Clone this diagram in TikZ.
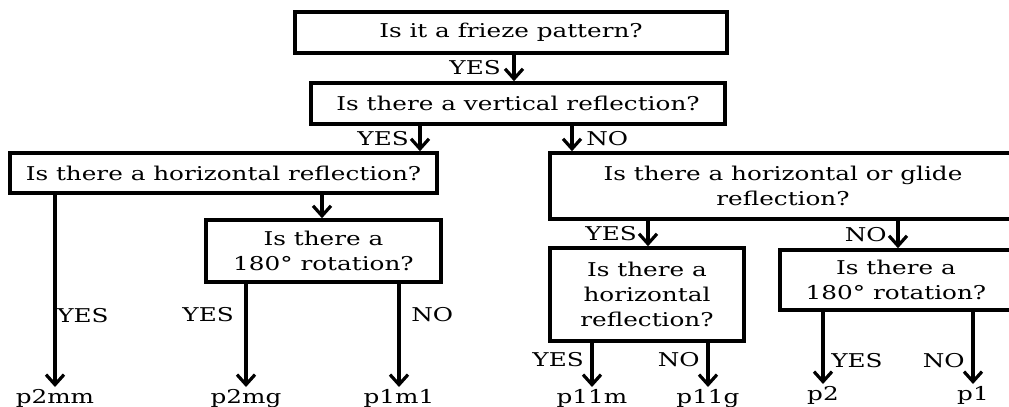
\documentclass[tikz,border=0pt]{standalone}
\usepackage{fontspec}
\setmainfont{DejaVu Serif}[FakeStretch=1.3]
\usetikzlibrary{arrows.meta}

\tikzset{
  qbox/.style={draw=black, line width=1.8pt, align=center, inner sep=0pt},
  arr/.style={line width=1.6pt, -{Straight Barb[length=5pt,width=9pt]}},
  leaf/.style={inner sep=1pt},
}

\begin{document}
\begin{tikzpicture}[x=0.5pt, y=-0.5pt, font=\fontsize{9.5}{12.3}\selectfont]
\useasboundingbox (0,0) rectangle (1009,407);
\clip (0,0) rectangle (1009,407);
% questions
\node[qbox, minimum width=216pt, minimum height=20.5pt] (q1) at (511,32.5) {Is it a frieze pattern?};
\node[qbox, minimum width=207pt, minimum height=20.5pt] (q2) at (518,103.5) {Is there a vertical reflection?};
\node[qbox, minimum width=213.5pt, minimum height=20pt] (q3) at (223.5,173) {Is there a horizontal reflection?};
\node[qbox, minimum width=233pt, minimum height=33pt] (q4) at (783,186) {Is there a horizontal or glide\\reflection?};
\node[qbox, minimum width=117.5pt, minimum height=31pt] (q5) at (323.5,251) {Is there a\\180\textdegree{} rotation?};
\node[qbox, minimum width=97pt, minimum height=46.5pt] (q6) at (647,294.5) {Is there a\\horizontal\\reflection?};
\node[qbox, minimum width=116pt, minimum height=30pt] (q7) at (896,280) {Is there a\\180\textdegree{} rotation?};
% answers
\node[leaf, anchor=north] (p2mm) at (55,387) {p2mm};
\node[leaf, anchor=north] (p2mg) at (246,387) {p2mg};
\node[leaf, anchor=north] (p1m1) at (399,387) {p1m1};
\node[leaf, anchor=north] (p11m) at (592,387) {p11m};
\node[leaf, anchor=north] (p11g) at (708,387) {p11g};
\node[leaf, anchor=north] (p2) at (823,384) {p2};
\node[leaf, anchor=north] (p1) at (973,384) {p1};
% where the arrows between boxes sit
\coordinate (x12) at (514,0);
\coordinate (x23) at (420,0);
\coordinate (x24) at (572,0);
\coordinate (x35) at (322,0);
\coordinate (x46) at (648,0);
\coordinate (x47) at (898,0);
% arrows
\draw[arr] (q1.south -| x12) -- node[left, xshift=-2.5pt]{YES} (q2.north -| x12);
\draw[arr] (q2.south -| x23) -- node[left, xshift=-1.5pt]{YES} (q3.north -| x23);
\draw[arr] (q2.south -| x24) -- node[right, xshift=3pt]{NO} (q4.north -| x24);
\draw[arr] (q3.south -| x35) -- (q5.north -| x35);
\draw[arr] (q4.south -| x46) -- node[left, xshift=-1.5pt]{YES} (q6.north -| x46);
\draw[arr] (q4.south -| x47) -- node[left, xshift=-1.5pt]{NO} (q7.north -| x47);
\draw[arr] (q3.south -| p2mm) -- node[right, pos=0.63, xshift=-3pt]{YES} (p2mm.north);
\draw[arr] (q5.south -| p2mg) -- node[left, pos=0.3, xshift=-2pt]{YES} (p2mg.north);
\draw[arr] (q5.south -| p1m1) -- node[right, pos=0.3, xshift=2pt]{NO} (p1m1.north);
\draw[arr] (q6.south -| p11m) -- node[left, pos=0.38]{YES} (p11m.north);
\draw[arr] (q6.south -| p11g) -- node[left, pos=0.38]{NO} (p11g.north);
\draw[arr] (q7.south -| p2) -- node[right, pos=0.68]{YES} (p2.north);
\draw[arr] (q7.south -| p1) -- node[left, pos=0.68]{NO} (p1.north);
\end{tikzpicture}
\end{document}
